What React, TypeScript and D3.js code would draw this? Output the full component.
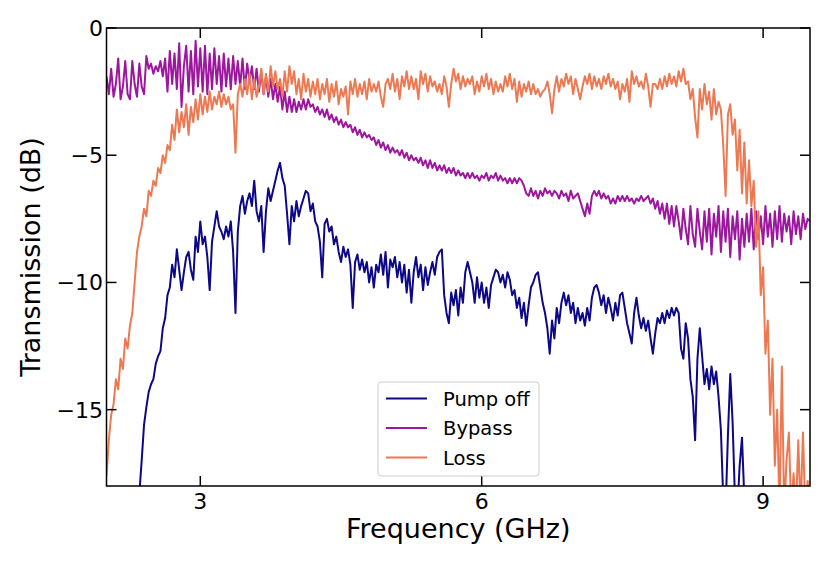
import React from "react";
import * as d3 from "d3";

// Frequency grid (GHz): F_START + i * F_STEP
const F_START = 2.0;
const F_STEP = 0.025;

const pumpOff: number[] = [
  -20, -20, -20, -20, -20, -20, -20, -20, -20, -20,
  -20, -20, -20, -20, -18.3, -17.0, -15.6, -14.9, -14.3, -14.0,
  -13.8, -13.2, -12.9, -12.7, -11.8, -11.4, -10.5, -10.2, -9.3, -9.8,
  -8.7, -9.5, -10.3, -9.6, -9.0, -8.8, -9.5, -9.9, -8.2, -8.8,
  -7.6, -8.5, -8.2, -9.0, -10.3, -8.4, -7.8, -7.2, -7.8, -8.0,
  -8.3, -7.8, -8.2, -7.6, -8.8, -11.2, -8.0, -7.0, -6.6, -7.3,
  -6.8, -6.5, -7.0, -6.0, -7.2, -7.6, -7.0, -8.8, -7.2, -6.3,
  -6.8, -6.4, -6.0, -5.6, -5.3, -5.9, -6.2, -7.3, -8.5, -7.0,
  -7.6, -6.8, -7.4, -7.0, -6.7, -6.4, -6.5, -7.2, -6.9, -7.6,
  -7.8, -8.4, -9.8, -7.7, -7.5, -8.0, -7.8, -8.5, -8.2, -8.8,
  -9.2, -8.6, -9.0, -8.7, -9.3, -11.0, -9.2, -8.9, -9.5, -9.1,
  -9.6, -9.2, -10.0, -9.4, -10.2, -9.3, -9.6, -8.9, -9.7, -8.8,
  -10.2, -9.1, -9.4, -9.0, -9.8, -9.2, -10.0, -9.3, -10.4, -9.5,
  -10.8, -9.6, -9.0, -9.8, -9.3, -10.3, -9.4, -10.1, -9.6, -9.2,
  -9.7, -9.0, -8.8, -8.7, -10.5, -11.2, -11.6, -10.4, -10.9, -10.3,
  -11.3, -10.2, -10.8, -9.6, -9.2, -9.6, -10.0, -10.8, -9.8, -10.6,
  -10.0, -10.8, -10.2, -11.0, -10.1, -9.8, -9.5, -9.6, -10.0, -9.7,
  -10.2, -9.6, -9.9, -10.5, -10.3, -11.0, -10.6, -11.4, -10.8, -11.7,
  -10.9, -10.2, -10.0, -9.7, -9.6, -10.2, -10.8, -11.2, -11.8, -12.8,
  -11.5, -12.2, -11.0, -11.6, -10.8, -10.4, -10.9, -10.5, -11.2, -10.8,
  -11.6, -11.0, -11.5, -11.2, -11.7, -11.0, -11.5, -10.6, -10.2, -10.1,
  -10.4, -10.9, -10.5, -11.2, -10.6, -11.0, -11.5, -10.8, -11.3, -10.5,
  -10.4, -11.0, -11.6, -12.0, -12.4, -11.2, -10.6, -11.3, -11.8, -11.4,
  -11.9, -11.5, -12.2, -12.8, -12.0, -11.4, -11.6, -11.2, -11.6, -11.1,
  -11.4, -11.0, -11.3, -11.0, -11.2, -12.6, -13.0, -11.6, -12.2, -13.8,
  -14.5, -16.2, -13.0, -11.8, -12.9, -14.0, -13.4, -14.2, -13.3, -14.0,
  -13.5, -14.5, -15.8, -18.5, -19, -16.0, -13.6, -15.5, -18.5, -19,
  -17.2, -16.1, -18.5, -19.5, -20, -20, -20, -20, -20, -20,
  -20, -20, -20, -20, -20, -20, -20, -20, -20, -20,
  -20, -20, -20, -20, -20, -20, -20, -20, -20, -20, -20,
];

const bypass: number[] = [
  -1.9, -2.6, -1.6, -2.7, -2.2, -1.2, -2.8, -2.3, -1.3, -2.6,
  -2.8, -1.3, -2.2, -2.7, -1.4, -2.3, -2.6, -1.1, -1.6, -1.4,
  -1.8, -1.5, -1.7, -1.3, -1.9, -1.2, -2.5, -0.9, -2.2, -1.0,
  -2.4, -0.6, -3.1, -1.5, -0.7, -2.5, -0.9, -2.6, -0.5, -2.3,
  -0.8, -2.5, -0.7, -2.6, -1.0, -2.4, -0.8, -2.2, -1.1, -2.5,
  -1.0, -2.3, -1.2, -2.4, -1.1, -2.2, -1.3, -2.3, -1.2, -2.4,
  -1.4, -2.1, -1.5, -2.4, -1.6, -2.5, -1.7, -2.6, -1.9, -2.7,
  -2.0, -2.8, -2.2, -2.9, -2.3, -3.2, -2.5, -3.3, -2.7, -3.3,
  -2.8, -3.3, -2.9, -3.2, -2.8, -3.2, -2.8, -3.1, -3.0, -3.3,
  -3.1, -3.4, -3.2, -3.5, -3.2, -3.6, -3.4, -3.7, -3.5, -3.8,
  -3.6, -3.9, -3.7, -3.9, -3.8, -4.1, -3.9, -4.2, -4.0, -4.3,
  -4.1, -4.3, -4.2, -4.4, -4.3, -4.6, -4.4, -4.7, -4.5, -4.8,
  -4.6, -4.9, -4.7, -4.9, -4.8, -5.0, -4.8, -5.1, -4.9, -5.2,
  -5.0, -5.2, -5.1, -5.3, -5.1, -5.4, -5.2, -5.5, -5.2, -5.5,
  -5.3, -5.6, -5.4, -5.6, -5.4, -5.7, -5.5, -5.7, -5.5, -5.8,
  -5.6, -5.8, -5.7, -5.9, -5.7, -5.9, -5.7, -5.9, -5.8, -6.0,
  -5.8, -5.9, -5.7, -6.0, -5.8, -5.9, -5.7, -6.0, -5.8, -6.0,
  -5.9, -6.1, -5.9, -6.1, -5.9, -6.1, -5.9, -6.0, -6.2, -6.5,
  -6.6, -6.3, -6.6, -6.4, -6.7, -6.4, -6.6, -6.3, -6.5, -6.4,
  -6.6, -6.4, -6.5, -6.7, -6.4, -6.6, -6.5, -6.8, -6.4, -6.7,
  -6.6, -6.5, -6.8, -7.1, -7.4, -6.9, -7.3, -6.6, -6.4, -6.6,
  -6.4, -6.7, -6.5, -6.7, -6.6, -6.9, -6.7, -6.9, -6.6, -6.8,
  -6.6, -6.8, -6.6, -6.8, -6.7, -6.9, -6.7, -6.8, -6.6, -6.8,
  -6.7, -6.6, -6.9, -6.7, -7.1, -6.8, -7.3, -6.9, -7.5, -6.9,
  -7.7, -7.0, -7.8, -7.0, -7.6, -8.3, -7.1, -7.9, -8.5, -7.0,
  -8.1, -8.6, -7.1, -8.0, -8.7, -7.2, -8.4, -7.1, -8.9, -7.3,
  -8.2, -7.0, -8.8, -7.2, -8.4, -7.1, -9.0, -7.4, -8.3, -7.2,
  -9.1, -7.5, -8.6, -7.3, -8.4, -7.1, -8.7, -7.2, -8.3, -7.4,
  -8.5, -7.0, -8.2, -7.3, -8.6, -7.2, -8.3, -7.0, -8.4, -7.3,
  -8.0, -7.4, -8.5, -7.2, -8.1, -7.4, -8.3, -7.3, -7.9, -7.5, -7.6,
];

const loss: number[] = [
  -17.6, -16.2, -15.2, -14.8, -13.8, -14.2, -13.0, -13.4, -12.2, -12.6,
  -11.7, -11.2, -10.0, -8.8, -8.2, -7.8, -7.1, -7.4, -6.4, -6.6,
  -6.0, -6.2, -5.5, -5.7, -5.0, -5.3, -4.6, -4.8, -3.8, -4.4,
  -3.2, -4.1, -3.3, -3.9, -3.0, -4.2, -3.1, -3.7, -2.8, -3.6,
  -2.6, -3.4, -2.7, -3.3, -2.5, -3.2, -2.7, -3.0, -2.5, -3.1,
  -2.6, -3.0, -2.7, -3.2, -3.0, -4.9, -2.6, -2.2, -2.7, -2.0,
  -2.6, -1.8, -2.8, -2.0, -2.7, -2.3, -1.6, -2.6, -1.8, -2.5,
  -1.5, -2.3, -1.7, -2.4, -2.0, -2.7, -1.7, -2.5, -1.5, -2.2,
  -1.7, -2.6, -2.0, -2.8, -1.8, -2.5, -2.0, -2.7, -2.1, -2.6,
  -2.0, -2.8, -2.2, -2.6, -2.0, -2.9, -2.2, -2.7, -2.1, -3.0,
  -2.4, -2.7, -2.3, -3.4, -2.1, -2.6, -2.0, -2.7, -2.2, -2.6,
  -2.1, -2.8, -2.0, -2.5, -2.2, -2.5, -2.1, -2.7, -3.1, -2.2,
  -2.0, -2.4, -1.8, -2.5, -2.0, -2.8, -1.9, -2.3, -1.7, -2.4,
  -1.9, -2.4, -2.0, -2.8, -1.7, -2.2, -1.8, -2.5, -1.9, -2.3,
  -2.1, -2.5, -2.2, -2.6, -1.9, -2.3, -3.1, -2.2, -1.6, -2.1,
  -1.8, -2.4, -1.9, -2.3, -2.0, -2.2, -1.9, -2.6, -2.1, -2.5,
  -1.9, -2.3, -1.8, -2.4, -2.0, -2.6, -2.1, -2.5, -2.2, -2.5,
  -1.9, -2.3, -1.8, -2.4, -2.0, -2.9, -2.1, -2.7, -2.2, -2.5,
  -2.1, -2.6, -2.2, -2.6, -2.4, -2.7, -2.5, -2.4, -2.1, -2.6,
  -3.35, -2.4, -1.9, -2.5, -2.0, -2.3, -1.8, -2.2, -1.9, -2.6,
  -2.0, -2.4, -2.8, -2.3, -1.9, -2.2, -1.8, -2.4, -1.9, -2.3,
  -2.0, -2.4, -1.9, -2.2, -1.8, -2.3, -2.0, -2.4, -2.1, -2.8,
  -2.2, -2.5, -2.0, -2.9, -1.7, -2.2, -1.9, -2.3, -2.1, -2.4,
  -1.8, -2.3, -3.1, -2.2, -2.2, -2.4, -2.0, -2.4, -1.9, -2.3,
  -1.8, -2.2, -1.9, -2.3, -1.7, -2.1, -1.6, -2.2, -2.1, -2.8,
  -2.4, -3.5, -4.3, -2.4, -3.2, -2.2, -3.0, -2.5, -3.6, -2.4,
  -3.4, -2.9, -3.2, -4.6, -6.6, -3.4, -3.0, -4.2, -3.6, -5.6,
  -4.0, -6.5, -4.5, -6.9, -5.2, -7.0, -6.0, -8.6, -7.2, -10.5,
  -9.4, -12.8, -11.5, -15.2, -13.0, -17.2, -15.0, -19, -13.3, -19,
  -17.0, -15.9, -19, -17.5, -19, -16.2, -19, -15.9, -19, -17.8, -19,
];

const seriesNames = ["Pump off", "Bypass", "Loss"];
const seriesColors = ["#0d0887", "#9c179e", "#ed7953"];
const seriesValues = [pumpOff, bypass, loss];

const xTicks = [3, 6, 9];
const xTickLabels = ["3", "6", "9"];
const yTicks = [-15, -10, -5, 0];
const yTickLabels = ["\u221215", "\u221210", "\u22125", "0"];

const W = 830;
const H = 564;
const M = { left: 106.5, right: 810, top: 28, bottom: 486 };
const FONT = "DejaVu Sans";

export default function App() {
  const x = d3.scaleLinear().domain([2, 9.5]).range([M.left, M.right]);
  const y = d3.scaleLinear().domain([-18, 0]).range([M.bottom, M.top]);
  const line = d3
    .line<[number, number]>()
    .x((d) => x(d[0]))
    .y((d) => y(d[1]));

  const series = seriesValues.map((vals) =>
    vals.map((v, i) => [F_START + i * F_STEP, v] as [number, number])
  );

  const tickLen = 10;
  const legX = 378;
  const legY = 382;
  const legW = 161;
  const legH = 94;
  const rowY = [398.5, 428, 457.5];

  return (
    <svg
      width={W}
      height={H}
      style={{ position: "absolute", left: 0, top: 0, background: "#fff" }}
      fontFamily={FONT}
    >
      <defs>
        <clipPath id="plotclip">
          <rect x={M.left} y={M.top} width={M.right - M.left} height={M.bottom - M.top} />
        </clipPath>
      </defs>
      <rect x={0} y={0} width={W} height={H} fill="#fff" />
      <g clipPath="url(#plotclip)">
        {series.map((s, k) => (
          <path
            key={k}
            d={line(s) || ""}
            fill="none"
            stroke={seriesColors[k]}
            strokeWidth={2}
            strokeLinejoin="round"
          />
        ))}
      </g>
      {/* frame */}
      <rect
        x={M.left}
        y={M.top}
        width={M.right - M.left}
        height={M.bottom - M.top}
        fill="none"
        stroke="#000"
        strokeWidth={1.5}
      />
      {/* x ticks */}
      {xTicks.map((t, i) => (
        <g key={"x" + i}>
          <line x1={x(t)} x2={x(t)} y1={M.bottom} y2={M.bottom - tickLen} stroke="#000" strokeWidth={1.5} />
          <line x1={x(t)} x2={x(t)} y1={M.top} y2={M.top + tickLen} stroke="#000" strokeWidth={1.5} />
          <text x={x(t)} y={M.bottom + 23} fontSize={22} textAnchor="middle" fill="#000">
            {xTickLabels[i]}
          </text>
        </g>
      ))}
      {/* y ticks */}
      {yTicks.map((t, i) => (
        <g key={"y" + i}>
          <line x1={M.left} x2={M.left + tickLen} y1={y(t)} y2={y(t)} stroke="#000" strokeWidth={1.5} />
          <line x1={M.right} x2={M.right - tickLen} y1={y(t)} y2={y(t)} stroke="#000" strokeWidth={1.5} />
          <text x={103} y={y(t) + 8} fontSize={22} textAnchor="end" fill="#000">
            {yTickLabels[i]}
          </text>
        </g>
      ))}
      {/* axis labels */}
      <text x={(M.left + M.right) / 2} y={538} fontSize={27} textAnchor="middle" fill="#000">
        Frequency (GHz)
      </text>
      <text
        transform={`translate(40, ${(M.top + M.bottom) / 2}) rotate(-90)`}
        fontSize={27}
        textAnchor="middle"
        fill="#000"
      >
        Transmission (dB)
      </text>
      {/* legend */}
      <rect
        x={legX}
        y={legY}
        width={legW}
        height={legH}
        rx={3}
        fill="#fff"
        fillOpacity={0.8}
        stroke="#cccccc"
        strokeWidth={1}
      />
      {seriesNames.map((n, k) => (
        <g key={"l" + k}>
          <line x1={386} x2={427} y1={rowY[k]} y2={rowY[k]} stroke={seriesColors[k]} strokeWidth={2} />
          <text x={443} y={rowY[k] + 7} fontSize={19.5} fill="#000">
            {n}
          </text>
        </g>
      ))}
    </svg>
  );
}
